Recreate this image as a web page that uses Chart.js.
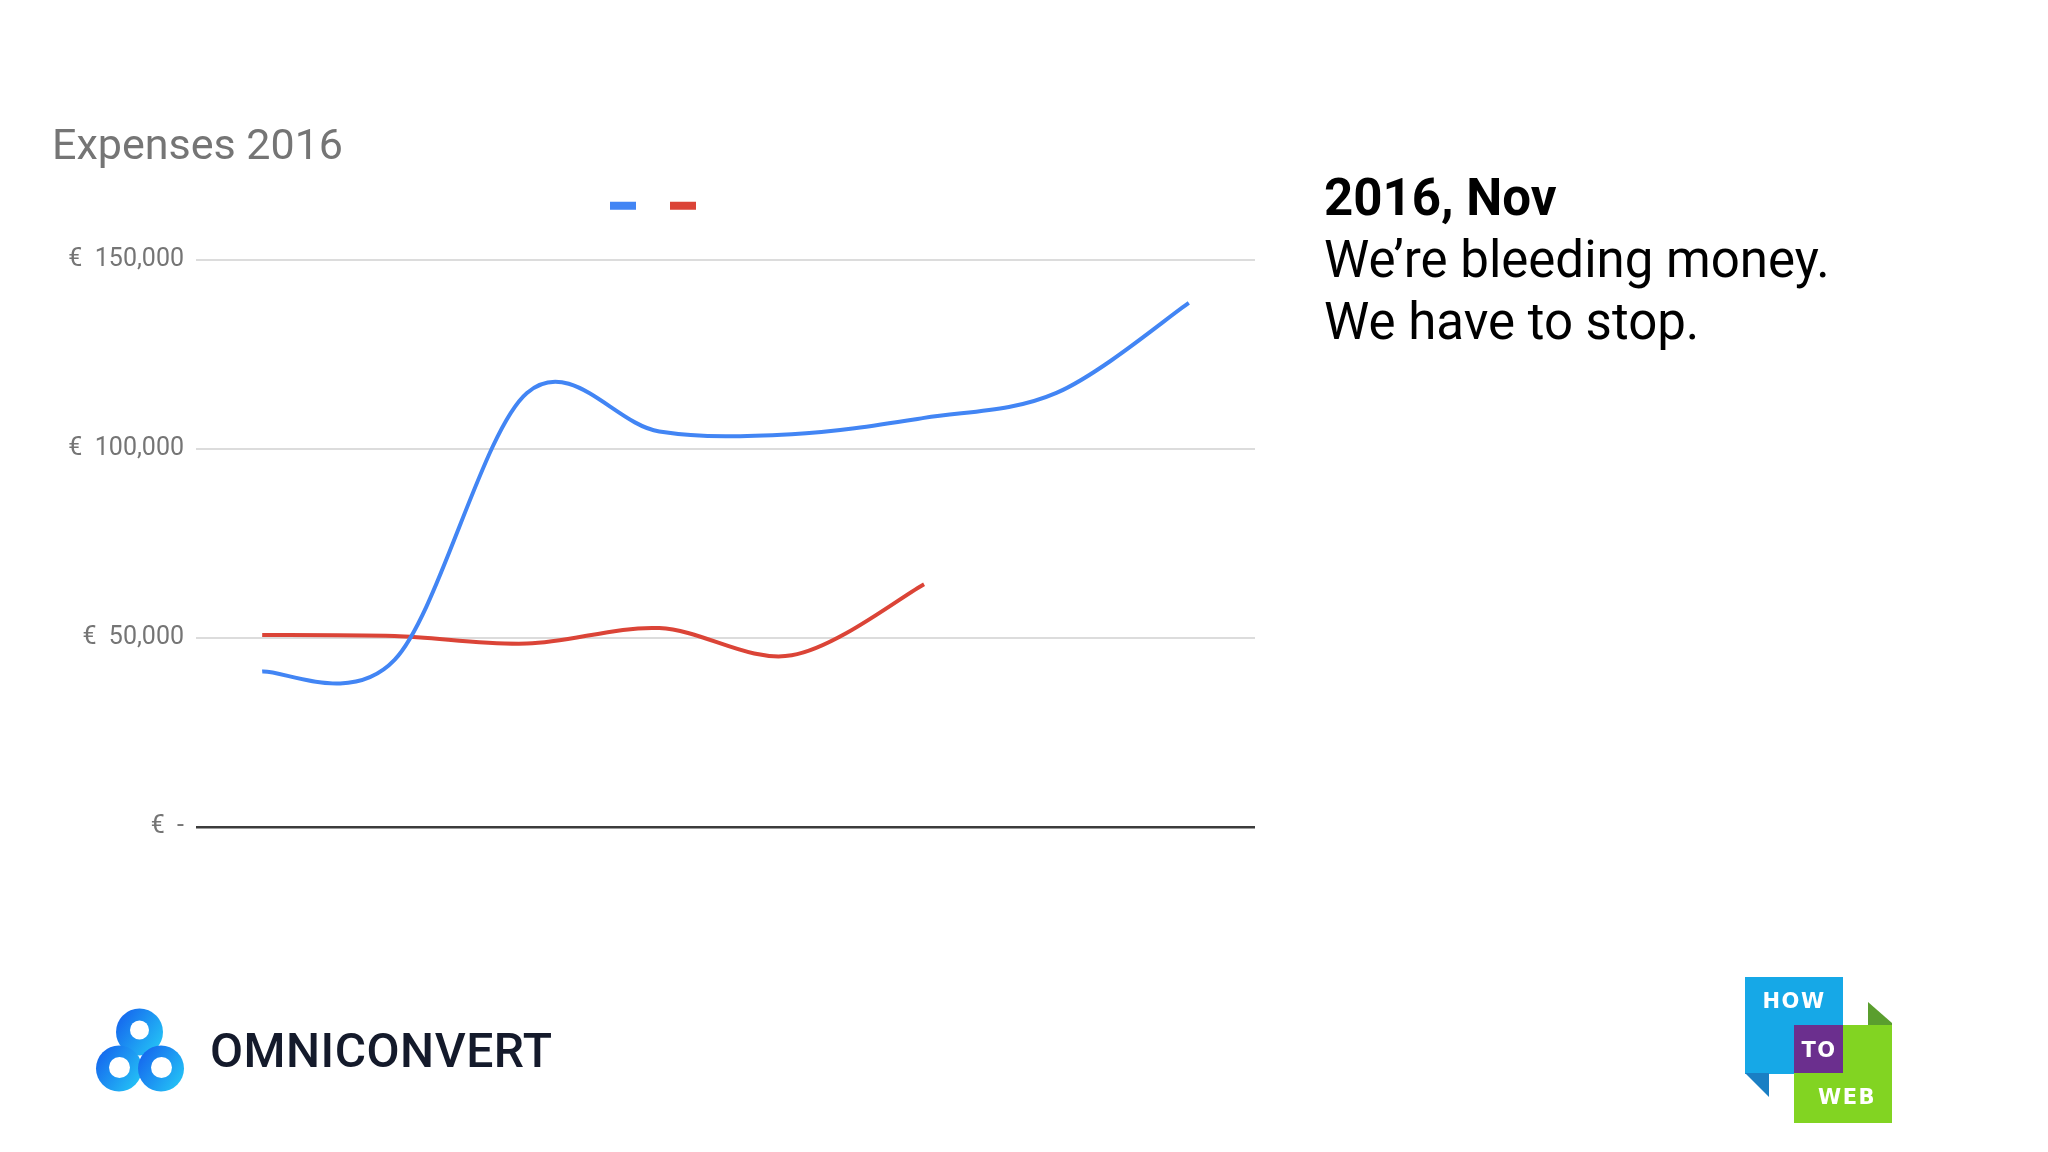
<!DOCTYPE html>
<html>
<head>
<meta charset="utf-8">
<script src="https://cdn.jsdelivr.net/npm/chart.js@4.4.1/dist/chart.umd.min.js"></script>
<style>
  html, body { margin: 0; padding: 0; background: #fff; }
  body { width: 2048px; height: 1152px; position: relative; overflow: hidden; font-family: Roboto, "Noto Sans", sans-serif; }
  #chartBox { position: absolute; left: 52px; top: 101px; width: 1218px; height: 753px; }
  .note { position: absolute; left: 1324px; top: 167px; font-size: 51px; line-height: 62px; color: #000; white-space: nowrap; }
  .note b { font-weight: 700; }
  .brand { position: absolute; left: 210px; top: 1027px; font-size: 48px; line-height: 48px; font-weight: 500; color: #141a2b; letter-spacing: 0.5px; }
  .htw { position: absolute; font-family: "DejaVu Sans", sans-serif; font-weight: 700; font-size: 21px; line-height: 21px; color: #fff; text-align: center; width: 90px; letter-spacing: 1.5px; }
  #logos { position: absolute; left: 0; top: 0; }
</style>
</head>
<body>
<div id="chartBox"><canvas id="expChart"></canvas></div>

<div class="note"><b>2016, Nov</b><br>We’re bleeding money.<br>We have to stop.</div>

<svg id="logos" width="2048" height="1152" viewBox="0 0 2048 1152">
  <defs>
    <linearGradient id="omni" x1="0" y1="0.2" x2="1" y2="0.9">
      <stop offset="0" stop-color="#1565ee"/>
      <stop offset="1" stop-color="#25c9f6"/>
    </linearGradient>
  </defs>
  <!-- omniconvert rings -->
  <g fill="url(#omni)">
    <circle cx="139.5" cy="1032" r="23.5"/>
    <circle cx="119" cy="1068.5" r="23"/>
    <circle cx="161" cy="1068.5" r="23"/>
  </g>
  <g fill="#fff">
    <circle cx="139.5" cy="1030" r="9.5"/>
    <circle cx="119.5" cy="1067.5" r="10.5"/>
    <circle cx="161.5" cy="1067.5" r="10.5"/>
  </g>
  <!-- how to web -->
  <rect x="1745" y="977" width="98" height="97" fill="#16a8e7"/>
  <polygon points="1745,1073 1769,1073 1769,1097" fill="#1a7fc4"/>
  <polygon points="1868,1002 1892,1023 1892,1025 1868,1025" fill="#5a9e2e"/>
  <rect x="1794" y="1025" width="98" height="98" fill="#82d422"/>
  <rect x="1794" y="1025" width="49" height="48" fill="#6b2f8e"/>
</svg>

<div class="brand">OMNICONVERT</div>
<div class="htw" style="left:1749px; top:991px;">HOW</div>
<div class="htw" style="left:1774px; top:1040px;">TO</div>
<div class="htw" style="left:1802px; top:1087px;">WEB</div>

<script>
// months shown on the (hidden) category axis
const months = ['Apr', 'May', 'Jun', 'Jul', 'Aug', 'Sep', 'Oct', 'Nov'];
// in euro
const expenses = [41100, 44200, 114800, 104600, 103900, 108200, 114800, 138600];
const revenue = [50800, 50500, 48500, 52600, 45400, 64200, null, null];
const yTicks = [0, 50000, 100000, 150000];

const blue = '#4285f4';
const red = '#db4437';

function euro(v) {
  if (v === 0) return '€  -';
  return '€  ' + v.toLocaleString('en-US');
}

// sheets-style smoothing: plain catmull-rom handles on the scaled points
const catmullRom = {
  id: 'catmullRom',
  beforeDatasetDraw(chart, args) {
    const meta = args.meta;
    meta.dataset.updateControlPoints(chart.chartArea, meta.iScale.axis);
    const pts = meta.data;
    pts.forEach((p, i) => {
      if (p.skip) return;
      const prev = i > 0 && !pts[i - 1].skip ? pts[i - 1] : p;
      const next = i < pts.length - 1 && !pts[i + 1].skip ? pts[i + 1] : p;
      const dx = (next.x - prev.x) / 6;
      const dy = (next.y - prev.y) / 6;
      p.cp1x = p.x - dx; p.cp1y = p.y - dy;
      p.cp2x = p.x + dx; p.cp2y = p.y + dy;
    });
  }
};

const ctx = document.getElementById('expChart').getContext('2d');
new Chart(ctx, {
  type: 'line',
  data: {
    labels: months,
    datasets: [
      { label: '', data: expenses, borderColor: blue, backgroundColor: blue, borderWidth: 4, pointRadius: 0, tension: 0.4, fill: false },
      { label: '', data: revenue, borderColor: red, backgroundColor: red, borderWidth: 4, pointRadius: 0, tension: 0.4, fill: false }
    ]
  },
  plugins: [catmullRom],
  options: {
    responsive: true,
    maintainAspectRatio: false,
    animation: false,
    layout: { padding: { left: 0, right: 15, top: 0, bottom: 0 } },
    plugins: {
      title: {
        display: true,
        text: 'Expenses 2016',
        align: 'start',
        color: '#757575',
        font: { family: 'Roboto', size: 43, weight: 'normal', lineHeight: 0.95 },
        padding: { top: 27, bottom: 0 }
      },
      legend: {
        display: true,
        position: 'top',
        labels: {
          boxWidth: 26,
          boxHeight: 8,
          padding: 33,
          font: { size: 2 },
          generateLabels: chart => Chart.defaults.plugins.legend.labels.generateLabels(chart)
            .map(item => ({ ...item, lineWidth: 0 }))
        }
      },
      tooltip: { enabled: false }
    },
    scales: {
      x: {
        position: 'top',
        offset: true,
        grid: { display: false },
        border: { display: false },
        ticks: { display: false },
        afterFit: s => { s.height = 40; }
      },
      y: {
        min: 0,
        max: 150000,
        afterBuildTicks: s => { s.ticks = yTicks.map(v => ({ value: v })); },
        afterFit: s => { s.width = 144; },
        border: { display: false },
        grid: {
          drawTicks: false,
          color: c => c.tick && c.tick.value === 0 ? '#3c3c3c' : '#dcdcdc',
          lineWidth: c => c.tick && c.tick.value === 0 ? 2.5 : 2
        },
        ticks: {
          padding: 12,
          color: '#757575',
          font: { family: 'Roboto', size: 25 },
          callback: v => euro(v)
        }
      }
    }
  }
});
</script>
</body>
</html>
